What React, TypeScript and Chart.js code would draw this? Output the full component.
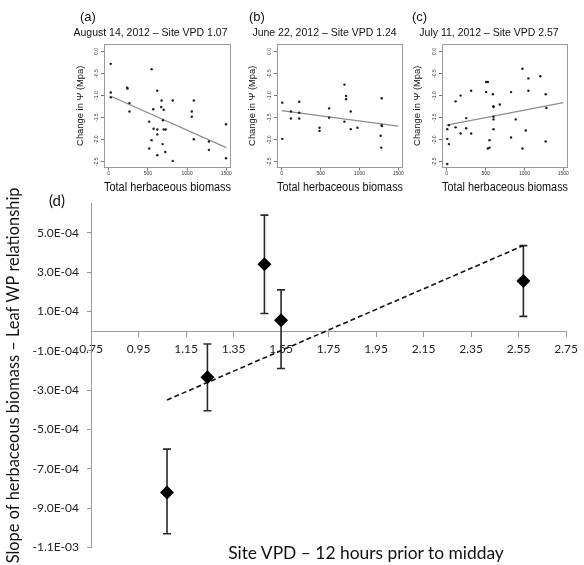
import React, { useEffect, useRef } from 'react';
import { Chart, registerables } from 'chart.js';

Chart.register(...registerables);

// ---------- panels (a)-(c): leaf water potential change vs herbaceous biomass ----------
const biomassTicks = [0, 500, 1000, 1500];
const psiTicks = [-2.5, -2.0, -1.5, -1.0, -0.5, 0.0];

const aTitle = 'August 14, 2012 – Site VPD 1.07';
const aBiomass = [26, 26, 26, 235, 240, 265, 265, 547, 620, 675, 817, 1086, 568, 670, 701, 517, 692, 573, 620, 701, 727, 620, 547, 687, 517, 722, 620, 817, 1060, 1060, 1086, 1278, 1278, 1496, 1496];
const aPsi = [-0.28, -0.93, -1.04, -0.82, -0.84, -1.17, -1.36, -0.40, -0.89, -1.11, -1.11, -1.11, -1.31, -1.26, -1.32, -1.59, -1.56, -1.75, -1.77, -1.77, -1.77, -1.88, -2.01, -2.10, -2.20, -2.28, -2.35, -2.48, -1.36, -1.48, -1.99, -2.04, -2.23, -1.65, -2.42];
const aFitX = [20, 1500];
const aFitY = [-1.01, -2.18];

const bTitle = 'June 22, 2012 – Site VPD 1.24';
const bBiomass = [8, 8, 119, 119, 226, 226, 226, 487, 487, 610, 610, 807, 828, 828, 807, 888, 888, 974, 1286, 1286, 1290, 1273, 1280];
const bPsi = [-1.16, -1.98, -1.36, -1.52, -1.14, -1.39, -1.52, -1.73, -1.80, -1.29, -1.50, -0.75, -1.01, -1.08, -1.59, -1.36, -1.76, -1.73, -1.06, -1.67, -1.69, -1.91, -2.18];
const bFitX = [0, 1500];
const bFitY = [-1.34, -1.69];

const cTitle = 'July 11, 2012 – Site VPD 2.57';
const cBiomass = [8, 8, 29, 8, 29, 115, 115, 179, 179, 251, 251, 315, 315, 508, 530, 508, 551, 530, 551, 594, 602, 602, 602, 602, 602, 683, 828, 828, 888, 974, 974, 1017, 1051, 1051, 1205, 1273, 1282, 1273];
const cPsi = [-1.76, -1.98, -2.10, -2.55, -1.67, -1.13, -1.72, -1.00, -1.86, -1.51, -1.74, -0.89, -1.86, -0.69, -0.69, -0.92, -2.01, -2.20, -2.18, -0.97, -1.24, -1.26, -1.48, -1.54, -1.76, -1.20, -0.92, -1.95, -1.54, -0.39, -2.20, -1.79, -0.61, -0.89, -0.56, -0.97, -1.28, -2.04];
const cFitX = [0, 1500];
const cFitY = [-1.67, -1.16];

// ---------- panel (d): slope vs site VPD ----------
const vpd = [1.07, 1.24, 1.48, 1.55, 2.57];
const slope = [-8.2e-4, -2.35e-4, 3.4e-4, 5.5e-5, 2.55e-4];
const slopeHigh = [-6.0e-4, -6.5e-5, 5.9e-4, 2.1e-4, 4.35e-4];
const slopeLow = [-1.03e-3, -4.05e-4, 9.0e-5, -1.9e-4, 7.5e-5];
const trendX = [1.07, 2.57];
const trendY = [-3.5e-4, 4.35e-4];
const vpdTicks = [0.75, 0.95, 1.15, 1.35, 1.55, 1.75, 1.95, 2.15, 2.35, 2.55, 2.75];
const slopeTicks = [-1.1e-3, -9e-4, -7e-4, -5e-4, -3e-4, -1e-4, 1e-4, 3e-4, 5e-4];
const slopeTickLabels = ['-1.1E-03', '-9.0E-04', '-7.0E-04', '-5.0E-04', '-3.0E-04', '-1.0E-04', '1.0E-04', '3.0E-04', '5.0E-04'];

const SANS = '"Liberation Sans", Arial, sans-serif';
const HUM = 'Lato, "Open Sans", sans-serif';

const boxPlugin = {
  id: 'rBox',
  afterDraw(chart: any) {
    const { ctx, chartArea: a } = chart;
    ctx.save();
    ctx.strokeStyle = '#9a9a9a';
    ctx.lineWidth = 1;
    const l = Math.round(a.left) + 0.5;
    const t = Math.round(a.top) + 0.5;
    const r = Math.round(a.right) - 0.5;
    const b = Math.round(a.bottom) - 0.5;
    ctx.strokeRect(l, t, r - l, b - t);
    ctx.restore();
  },
};

const errorBarPlugin = {
  id: 'errorBars',
  beforeDatasetsDraw(chart: any) {
    const { ctx, scales } = chart;
    const x = scales.x;
    const y = scales.y;
    ctx.save();
    ctx.strokeStyle = '#2a2a2a';
    ctx.lineWidth = 1.6;
    vpd.forEach((v, i) => {
      const px = x.getPixelForValue(v);
      const top = y.getPixelForValue(slopeHigh[i]);
      const bot = y.getPixelForValue(slopeLow[i]);
      ctx.beginPath();
      ctx.moveTo(px, top);
      ctx.lineTo(px, bot);
      ctx.moveTo(px - 4, top);
      ctx.lineTo(px + 4, top);
      ctx.moveTo(px - 4, bot);
      ctx.lineTo(px + 4, bot);
      ctx.stroke();
    });
    ctx.restore();
  },
};

type PanelCfg = {
  title: string;
  xs: number[];
  ys: number[];
  fitX: number[];
  fitY: number[];
  plotLeft: number;
  padRight: number;
  yTitlePad: number;
};

function makePanel(canvas: HTMLCanvasElement, p: PanelCfg) {
  return new Chart(canvas, {
    type: 'scatter',
    data: {
      datasets: [
        {
          data: p.xs.map((v, i) => ({ x: v, y: p.ys[i] })),
          pointRadius: 1.2,
          pointBackgroundColor: '#1a1a1a',
          pointBorderWidth: 0,
          order: 0,
        },
        {
          data: p.fitX.map((v, i) => ({ x: v, y: p.fitY[i] })),
          showLine: true,
          borderColor: '#8c8c8c',
          borderWidth: 1.2,
          pointRadius: 0,
          order: 1,
        },
      ],
    },
    options: {
      responsive: false,
      animation: false,
      events: [],
      layout: { padding: { left: 0, right: p.padRight, top: 0, bottom: 0 } },
      plugins: {
        legend: { display: false },
        tooltip: { enabled: false },
        title: {
          display: true,
          text: p.title,
          color: '#111',
          font: { family: SANS, size: 10.5, weight: 'normal', lineHeight: 1.2 },
          padding: { top: 26.7, bottom: 4.7 },
        },
      },
      scales: {
        x: {
          type: 'linear',
          min: -60,
          max: 1560,
          afterBuildTicks: (s: any) => {
            s.ticks = biomassTicks.map((v) => ({ value: v }));
          },
          afterFit: (s: any) => {
            s.height = 27.5;
          },
          grid: { drawOnChartArea: false, drawTicks: true, tickLength: 3, color: '#777' },
          border: { display: false },
          ticks: {
            font: { family: SANS, size: 5 },
            color: '#333',
            padding: 0,
            maxRotation: 0,
            autoSkip: false,
            callback: (v: any) => String(v),
          },
          title: {
            display: true,
            text: 'Total herbaceous biomass',
            color: '#111',
            font: { family: SANS, size: 12.3, lineHeight: 1.2 },
            padding: { top: 0, bottom: 0 },
          },
        },
        y: {
          type: 'linear',
          min: -2.63,
          max: 0.17,
          afterBuildTicks: (s: any) => {
            s.ticks = psiTicks.map((v) => ({ value: v }));
          },
          afterFit: (s: any) => {
            s.width = p.plotLeft;
          },
          grid: { drawOnChartArea: false, drawTicks: true, tickLength: 3, color: '#777' },
          border: { display: false },
          ticks: {
            font: { family: SANS, size: 5 },
            color: '#333',
            padding: 0,
            minRotation: 90,
            maxRotation: 90,
            crossAlign: 'center',
            autoSkip: false,
            callback: (v: any) => Number(v).toFixed(1),
          },
          title: {
            display: true,
            text: 'Change in Ψ (Mpa)',
            color: '#111',
            font: { family: SANS, size: 9.4, lineHeight: 1.2 },
            padding: { top: p.yTitlePad, bottom: 0 },
          },
        },
      },
    } as any,
    plugins: [boxPlugin],
  });
}

function makeSlopeChart(canvas: HTMLCanvasElement) {
  return new Chart(canvas, {
    type: 'scatter',
    data: {
      datasets: [
        {
          data: vpd.map((v, i) => ({ x: v, y: slope[i] })),
          pointStyle: 'rectRot',
          pointRadius: 7,
          backgroundColor: '#000',
          borderColor: '#000',
          borderWidth: 0,
          order: 0,
        },
        {
          data: trendX.map((v, i) => ({ x: v, y: trendY[i] })),
          showLine: true,
          borderColor: '#111',
          borderWidth: 1.6,
          borderDash: [5, 3],
          pointRadius: 0,
          order: 1,
        },
      ],
    },
    options: {
      responsive: false,
      animation: false,
      events: [],
      layout: { padding: { left: 0, right: 12, top: 33.3, bottom: 17.5 } },
      plugins: { legend: { display: false }, tooltip: { enabled: false } },
      scales: {
        x: {
          type: 'linear',
          position: { y: 0 },
          min: 0.75,
          max: 2.75,
          afterBuildTicks: (s: any) => {
            s.ticks = vpdTicks.map((v) => ({ value: v }));
          },
          grid: { drawOnChartArea: false, drawTicks: true, tickLength: 5, color: '#9a9a9a' },
          border: { display: true, color: '#9a9a9a', width: 1 },
          ticks: {
            font: { family: HUM, size: 12 },
            color: '#222',
            padding: 6,
            maxRotation: 0,
            autoSkip: false,
            callback: (v: any) => Number(v).toFixed(2),
          },
        },
        y: {
          type: 'linear',
          position: 'left',
          min: -1.1e-3,
          max: 6.5e-4,
          afterBuildTicks: (s: any) => {
            s.ticks = slopeTicks.map((v) => ({ value: v }));
          },
          afterFit: (s: any) => {
            s.width = 91;
          },
          grid: { drawOnChartArea: false, drawTicks: true, tickLength: 4, color: '#9a9a9a' },
          border: { display: true, color: '#9a9a9a', width: 1 },
          ticks: {
            font: { family: HUM, size: 12 },
            color: '#222',
            padding: 8,
            autoSkip: false,
            callback: (_v: any, i: number) => slopeTickLabels[i],
          },
          title: {
            display: true,
            text: 'Slope of herbaceous biomass – Leaf WP relationship',
            color: '#111',
            font: { family: HUM, size: 16.4, lineHeight: 1.2 },
            padding: { top: 4.2, bottom: 0 },
          },
        },
      },
    } as any,
    plugins: [errorBarPlugin],
  });
}

const abs = (left: number, top: number, extra: any = {}) => ({
  position: 'absolute' as const,
  left,
  top,
  ...extra,
});

export default function App() {
  const aRef = useRef<HTMLCanvasElement>(null);
  const bRef = useRef<HTMLCanvasElement>(null);
  const cRef = useRef<HTMLCanvasElement>(null);
  const dRef = useRef<HTMLCanvasElement>(null);

  useEffect(() => {
    const charts: Chart[] = [];
    if (aRef.current)
      charts.push(makePanel(aRef.current, { title: aTitle, xs: aBiomass, ys: aPsi, fitX: aFitX, fitY: aFitY, plotLeft: 34, padRight: 17, yTitlePad: 4.35 }));
    if (bRef.current)
      charts.push(makePanel(bRef.current, { title: bTitle, xs: bBiomass, ys: bPsi, fitX: bFitX, fitY: bFitY, plotLeft: 31, padRight: 19, yTitlePad: 0.35 }));
    if (cRef.current)
      charts.push(makePanel(cRef.current, { title: cTitle, xs: cBiomass, ys: cPsi, fitX: cFitX, fitY: cFitY, plotLeft: 32, padRight: 18, yTitlePad: 1.35 }));
    if (dRef.current) charts.push(makeSlopeChart(dRef.current));
    return () => charts.forEach((c) => c.destroy());
  }, []);

  const letter = { fontFamily: SANS, fontSize: 13, lineHeight: '16px', color: '#111' };

  return (
    <div style={{ position: 'fixed', left: 0, top: 0, width: 584, height: 565, overflow: 'hidden', background: '#fff' }}>
      <canvas ref={aRef} width={178} height={195} style={abs(70, 0)} />
      <canvas ref={bRef} width={176} height={195} style={abs(246, 0)} />
      <canvas ref={cRef} width={176} height={195} style={abs(410, 0)} />
      <canvas ref={dRef} width={584} height={395} style={abs(0, 170)} />
      <div style={abs(80, 9, letter)}>(a)</div>
      <div style={abs(249, 9, letter)}>(b)</div>
      <div style={abs(412, 9, letter)}>(c)</div>
      <div style={abs(49, 191, { fontFamily: HUM, fontSize: 15, lineHeight: '18px', color: '#111' })}>(d)</div>
      <div style={abs(166, 542, { width: 400, textAlign: 'center', fontFamily: HUM, fontSize: 17.4, lineHeight: '22px', color: '#111' })}>
        Site VPD – 12 hours prior to midday
      </div>
    </div>
  );
}
